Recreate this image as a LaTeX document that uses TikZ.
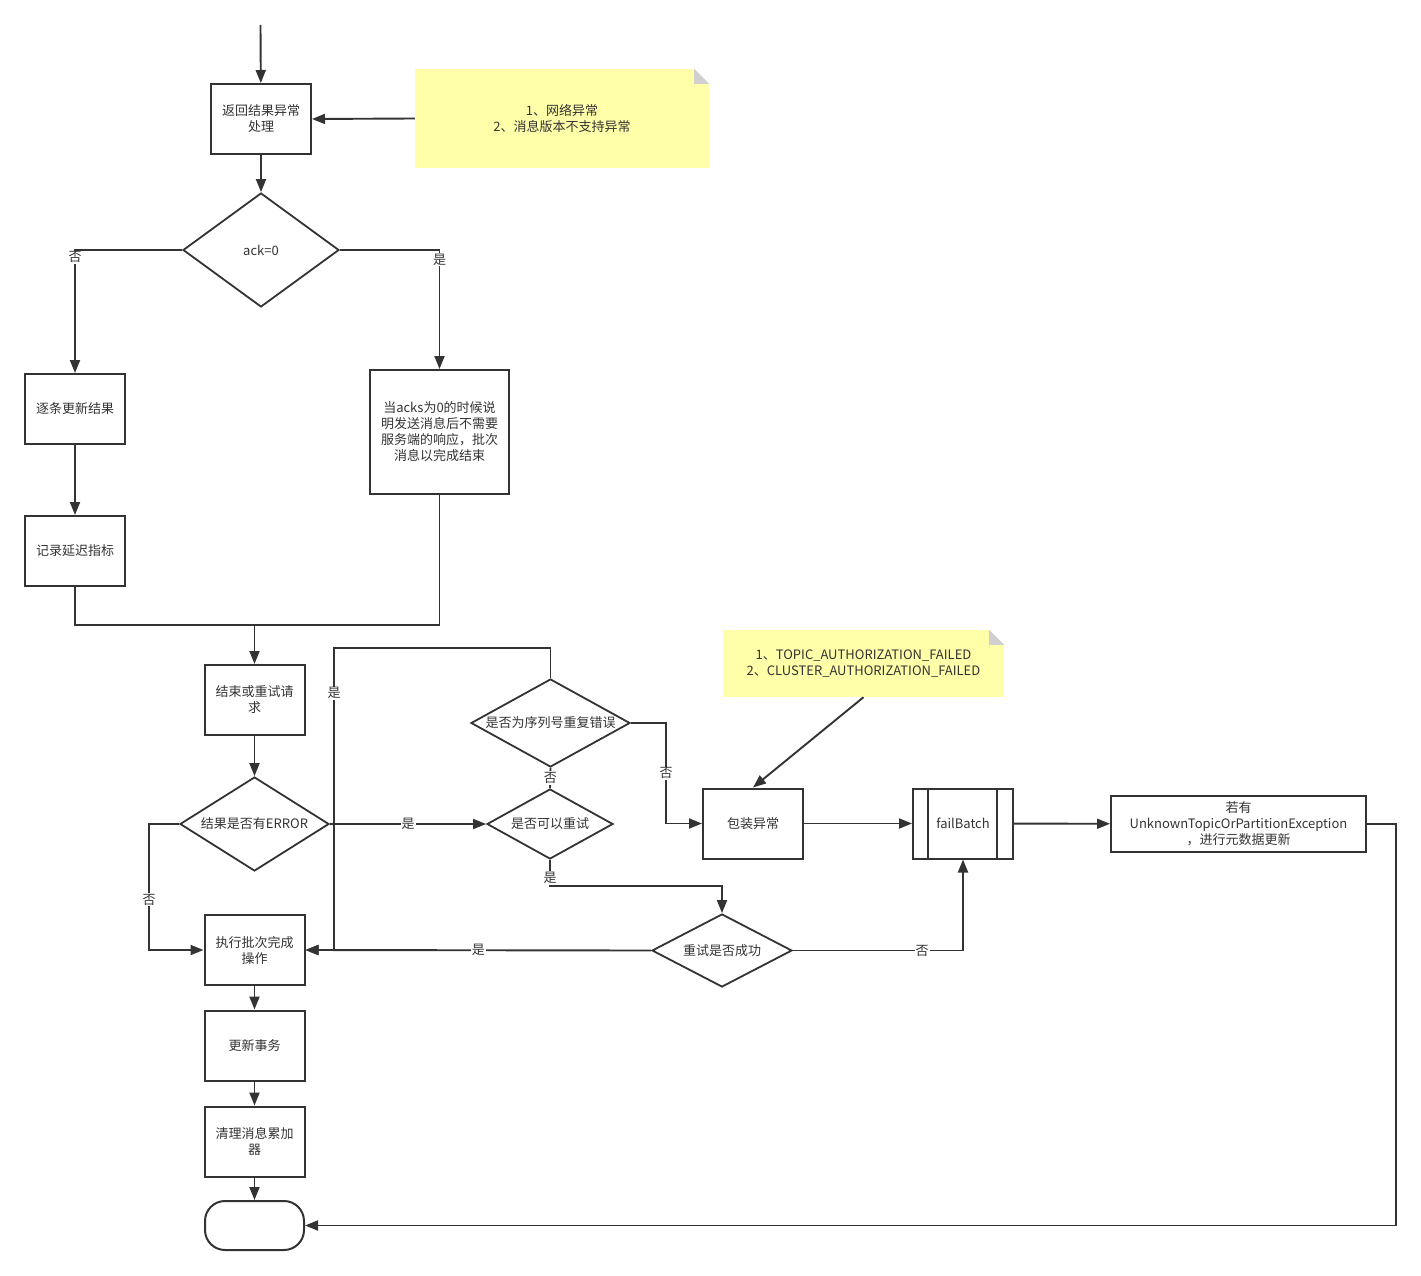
\documentclass[tikz,border=0pt]{standalone}
\usepackage{fontspec}
\setmainfont{Noto Sans CJK SC}
\usetikzlibrary{arrows.meta,shapes.geometric}
\definecolor{ln}{HTML}{333333}
\definecolor{notey}{HTML}{FFFFAA}
\definecolor{fold}{HTML}{D0D0D0}
\tikzset{
	every node/.style={font=\fontsize{13}{16}\selectfont, text=ln},
	box/.style={draw=ln, line width=2pt, minimum width=100, minimum height=70, align=center, inner sep=2pt},
	dec/.style={draw=ln, line width=1.8pt, diamond, inner sep=0pt},
	term/.style={draw=ln, line width=2pt, rounded corners=20pt, minimum width=99, minimum height=49},
	note/.style={fill=notey, align=center, inner sep=0pt},
	wire/.style={draw=ln, line width=1.9pt},
	arr/.style={wire, -{Triangle[length=13pt,width=10pt]}},
	lbl/.style={fill=white, inner sep=1pt}
}

\begin{document}
\begin{tikzpicture}[x=1pt, y=-1pt]
	\useasboundingbox (0,0) rectangle (1421,1276);
	\coordinate (start) at (260.5,25);
	\coordinate (mg) at (254.5,625);

	\node[box] (ret) at (261,119) {返回结果异常\\处理};
	\node[note, minimum width=294, minimum height=99] (n1) at (562,118.5) {1、网络异常\\2、消息版本不支持异常};
	\node[dec, minimum width=156, minimum height=114, label={center:ack=0}] (ack) at (261,250) {};
	\node[box] (one) at (75,409) {逐条更新结果};
	\node[box, minimum width=139, minimum height=124] (zero) at (439.5,432) {当acks为0的时候说\\明发送消息后不需要\\服务端的响应，批次\\消息以完成结束};
	\node[box] (rec) at (75,551) {记录延迟指标};
	\node[box] (fin) at (254.5,700) {结束或重试请\\求};
	\node[dec, minimum width=149, minimum height=94, label={center:结果是否有ERROR}] (err) at (254.5,824) {};
	\node[dec, minimum width=159, minimum height=88, label={center:是否为序列号重复错误}] (seq) at (550.5,723) {};
	\node[dec, minimum width=126, minimum height=70, label={center:是否可以重试}] (can) at (550,824) {};
	\node[dec, minimum width=140, minimum height=73, label={center:重试是否成功}] (ok) at (722,950.5) {};
	\node[box] (done) at (254.5,950) {执行批次完成\\操作};
	\node[box] (txn) at (254.5,1045.5) {更新事务};
	\node[box] (clr) at (254.5,1141.5) {清理消息累加\\器};
	\node[term] (end) at (254.5,1225.5) {};
	\node[note, minimum width=281, minimum height=67] (n2) at (863.5,663.5) {1、TOPIC\_AUTHORIZATION\_FAILED\\2、CLUSTER\_AUTHORIZATION\_FAILED};
	\node[box] (wrap) at (753,823.5) {包装异常};
	\node[box] (fb) at (963,823.5) {failBatch};
	\node[box, minimum width=255, minimum height=56, inner sep=0pt] (meta) at (1238.5,824) {若有\\UnknownTopicOrPartitionException\\，进行元数据更新};

	\fill[white] (n1.north east) -- ++(-15,0) -- ++(15,15) -- cycle;
	\fill[fold] ([xshift=-15pt]n1.north east) -- ++(0,15) -- ++(15,0) -- cycle;
	\fill[white] (n2.north east) -- ++(-15,0) -- ++(15,15) -- cycle;
	\fill[fold] ([xshift=-15pt]n2.north east) -- ++(0,15) -- ++(15,0) -- cycle;
	\draw[wire] ([xshift=16pt]fb.north west) -- ([xshift=16pt]fb.south west);
	\draw[wire] ([xshift=-17pt]fb.north east) -- ([xshift=-17pt]fb.south east);

	\draw[arr] (start) -- (ret);
	\draw[arr] (n1.west) -- (ret.east);
	\draw[arr] (ret) -- (ack);
	\draw[arr] (ack.west) -| node[lbl, pos=0.53] {否} (one.north);
	\draw[arr] (ack.east) -| node[lbl, pos=0.54] {是} (zero.north);
	\draw[arr] (one) -- (rec);
	\draw[wire] (rec.south) |- (mg);
	\draw[wire] (zero.south) |- (mg);
	\draw[arr] (mg) -- (fin.north);
	\draw[arr] (fin) -- (err);
	\draw[arr] (err.west) -- ++(-30,0) |- node[lbl, pos=0.3] {否} (done.west);
	\draw[arr] (err.east) -- node[lbl] {是} (can.west);
	\draw[wire] (can.north) -- node[lbl] {否} (seq.south);
	\draw[arr] (seq.north) |- (334,648) -- node[lbl, pos=0.15] {是} (334,950) -- (done.east);
	\draw[arr] (seq.east) -- (666,723) -- node[lbl] {否} (666,823.5) -- (wrap.west);
	\draw[arr] (can.south) -- node[lbl, pos=0.7] {是} (550,886) -| (ok.north);
	\draw[arr] (ok.west) -- node[lbl] {是} (done.east);
	\draw[arr] (ok.east) -| node[lbl, pos=0.38] {否} (fb.south);
	\draw[arr] (n2.south) -- (wrap.north);
	\draw[arr] (wrap) -- (fb);
	\draw[arr] (fb) -- (meta);
	\draw[arr] (meta.east) -- (1396,824) |- (end.east);
	\draw[arr] (done) -- (txn);
	\draw[arr] (txn) -- (clr);
	\draw[arr] (clr) -- (end);
\end{tikzpicture}
\end{document}
